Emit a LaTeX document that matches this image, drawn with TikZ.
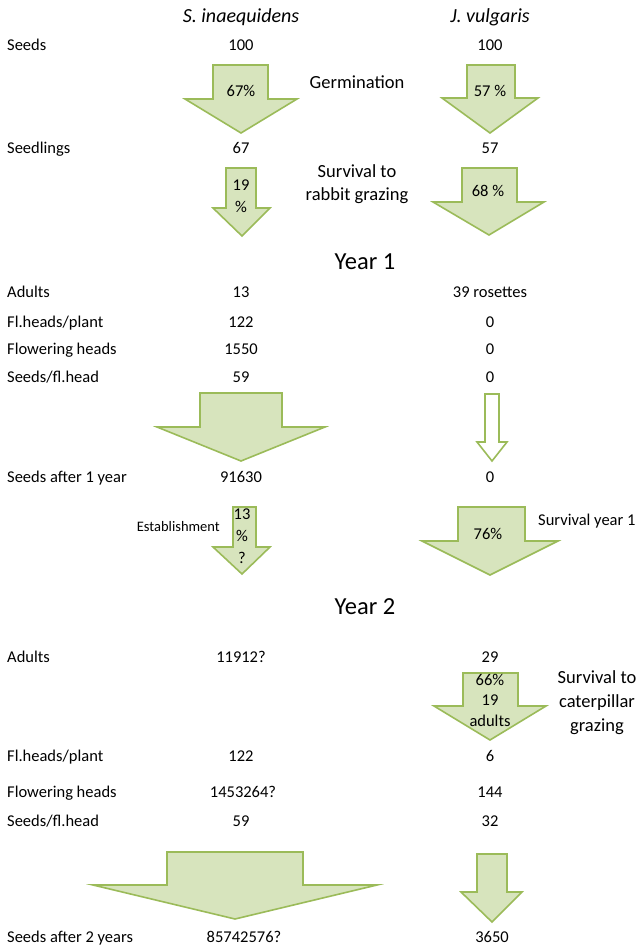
\documentclass[tikz,border=0pt]{standalone}
\usepackage{fontspec}
\setmainfont{Carlito}
\definecolor{arrfill}{HTML}{D7E4BD}
\definecolor{arrline}{HTML}{9BBB59}
\newcommand{\garrow}[9]{\draw[#1] (#2,#4) -- (#3,#4) -- (#3,#7) -- (#6,#7) -- (#8,#9) -- (#5,#7) -- (#2,#7) -- cycle;}
\begin{document}
\begin{tikzpicture}[x=1pt,y=-1pt,
  txt/.style={inner sep=0pt, font=\fontsize{16.5}{22}\selectfont, text height=11pt, text depth=3pt},
  lbl/.style={txt, anchor=west},
  hdr/.style={inner sep=0pt, font=\fontsize{20}{24}\selectfont\itshape},
  yr/.style={inner sep=0pt, font=\fontsize{24.5}{28}\selectfont},
  side/.style={inner sep=0pt, align=center, font=\fontsize{18.5}{#1}\selectfont},
  multi/.style={inner sep=0pt, align=center, font=\fontsize{16.5}{#1}\selectfont},
  arr/.style={fill=arrfill, draw=arrline, line width=1.6pt, line join=miter},
  arrw/.style={fill=white, draw=arrline, line width=1.6pt, line join=miter}]
\useasboundingbox (0,0) rectangle (640,949);
\fill[white] (0,0) rectangle (640,949);
% headers
\node[hdr] (hS) at (241,17) {S. inaequidens};
\node[hdr] (hJ) at (490,17) {J. vulgaris};
% arrows
\garrow{arr}{213}{268}{65}{185}{297}{99}{241}{133}
\garrow{arr}{467}{515}{65}{442}{538}{98}{490}{133}
\garrow{arr}{226}{256}{168}{213}{270}{208}{242}{236}
\garrow{arr}{462}{517}{168}{433}{544}{202}{489}{235}
\garrow{arr}{200}{282}{393}{157}{325}{427}{241}{461}
\garrow{arrw}{485}{499}{394}{477}{507}{442}{492}{461}
\garrow{arr}{233}{256}{507}{213}{270}{547}{242}{574}
\garrow{arr}{458}{525}{507}{422}{558}{541}{490}{575}
\garrow{arr}{463}{518}{673}{434}{546}{706}{490}{740}
\garrow{arr}{167}{303}{852}{93}{377}{885}{235}{919}
\garrow{arr}{477}{507}{854}{461}{522}{892}{492}{922}
% arrow texts
\node[txt] (a1) at (241,93) {67\%};
\node[txt] (a2) at (490,93) {57 \%};
\node[multi=22] (a3) at (241,196) {19\\\%};
\node[txt] (a4) at (488,193) {68 \%};
\node[multi=22] (a7) at (242,536) {13\\\%\\?};
\node[txt] (a8) at (488,535) {76\%};
\node[multi=20.5] (a9) at (490,700) {66\%\\19\\adults};
% side texts
\node[side=23] (germ) at (357,82) {Germination};
\node[side=23] (rab) at (357,184) {Survival to\\rabbit grazing};
\node[yr] (y1) at (365,262) {Year 1};
\node[txt, anchor=east, font=\fontsize{14.5}{17}\selectfont] (est) at (220,527) {Establishment};
\node[txt, anchor=west] (sy1) at (538,521) {Survival year 1};
\node[yr] (y2) at (365,607) {Year 2};
\node[side=24] (cat) at (597,703) {Survival to\\caterpillar\\grazing};
% row labels
\node[lbl] (l1) at (7,47) {Seeds};
\node[lbl] (l2) at (7,150) {Seedlings};
\node[lbl] (l3) at (7,294) {Adults};
\node[lbl] (l4) at (7,323) {Fl.heads/plant};
\node[lbl] (l5) at (7,350) {Flowering heads};
\node[lbl] (l6) at (7,378) {Seeds/fl.head};
\node[lbl] (l7) at (7,478) {Seeds after 1 year};
\node[lbl] (l8) at (7,658) {Adults};
\node[lbl] (l9) at (7,757) {Fl.heads/plant};
\node[lbl] (l10) at (7,793) {Flowering heads};
\node[lbl] (l11) at (7,822) {Seeds/fl.head};
\node[lbl] (l12) at (7,938) {Seeds after 2 years};
% S values
\node[txt] (s1) at (241,47) {100};
\node[txt] (s2) at (241,150) {67};
\node[txt] (s3) at (241,294) {13};
\node[txt] (s4) at (241,323) {122};
\node[txt] (s5) at (241,350) {1550};
\node[txt] (s6) at (241,378) {59};
\node[txt] (s7) at (241,478) {91630};
\node[txt] (s8) at (241,658) {11912?};
\node[txt] (s9) at (241,757) {122};
\node[txt] (s10) at (243,793) {1453264?};
\node[txt] (s11) at (241,822) {59};
\node[txt] (s12) at (244,938) {85742576?};
% J values
\node[txt] (j1) at (490,47) {100};
\node[txt] (j2) at (490,150) {57};
\node[txt] (j3) at (490,294) {39 rosettes};
\node[txt] (j4) at (490,323) {0};
\node[txt] (j5) at (490,350) {0};
\node[txt] (j6) at (490,378) {0};
\node[txt] (j7) at (490,478) {0};
\node[txt] (j8) at (490,658) {29};
\node[txt] (j9) at (490,757) {6};
\node[txt] (j10) at (490,793) {144};
\node[txt] (j11) at (490,822) {32};
\node[txt] (j12) at (492,938) {3650};
\end{tikzpicture}
\end{document}
